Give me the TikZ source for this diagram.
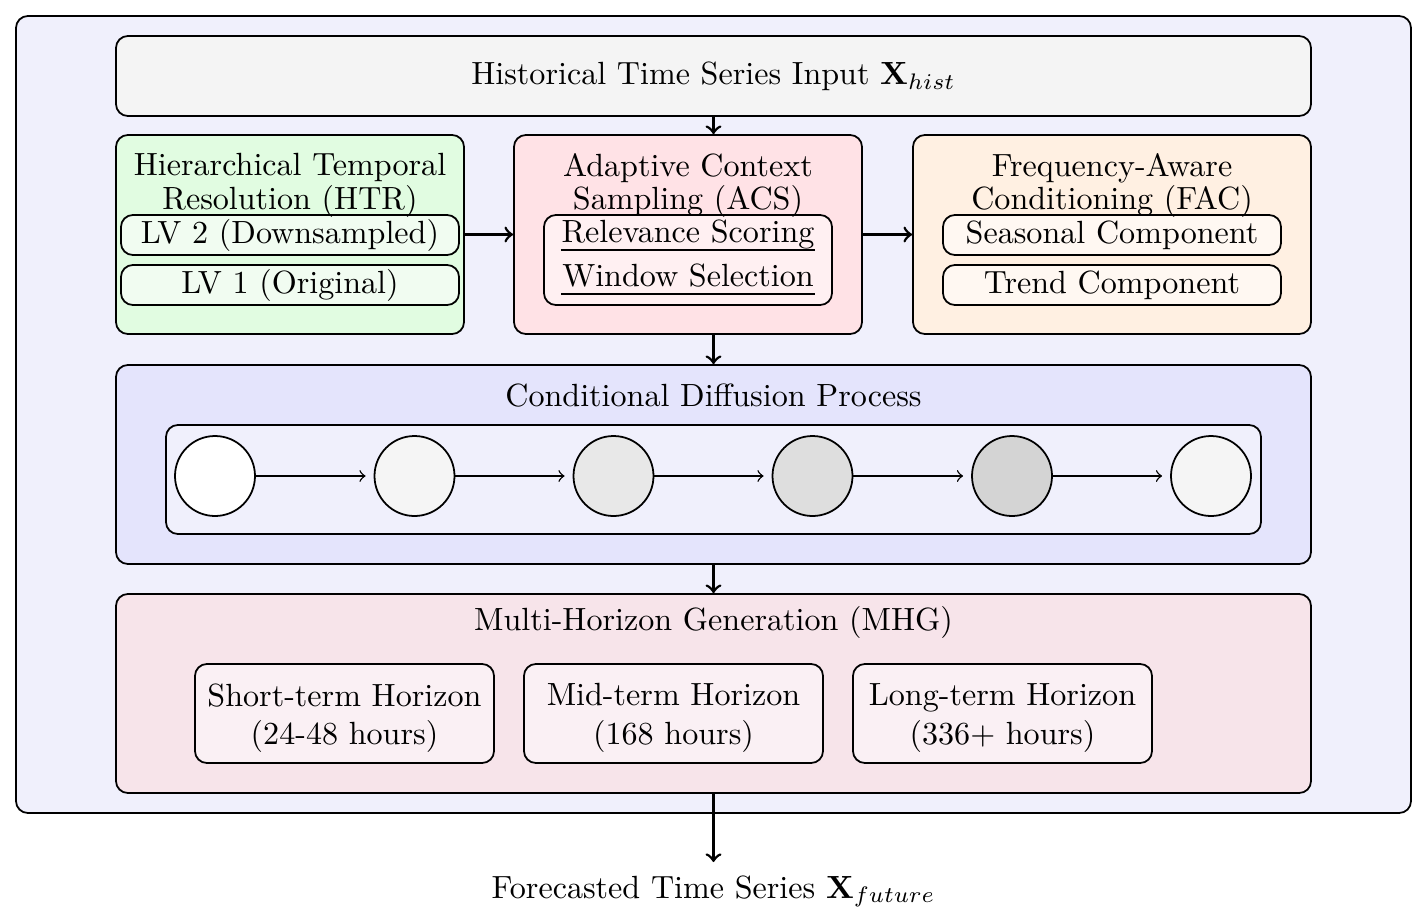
\documentclass[tikz,border=0pt]{standalone}
\usetikzlibrary{arrows}
\definecolor{cOuter}{RGB}{240,240,252}
\definecolor{cInput}{RGB}{244,244,244}
\definecolor{cHTR}{RGB}{225,252,225}
\definecolor{cHTRin}{RGB}{241,252,241}
\definecolor{cACS}{RGB}{255,226,230}
\definecolor{cACSin}{RGB}{255,240,242}
\definecolor{cFAC}{RGB}{255,240,226}
\definecolor{cFACin}{RGB}{255,248,242}
\definecolor{cDiff}{RGB}{228,228,252}
\definecolor{cDiffin}{RGB}{240,240,252}
\definecolor{cMHG}{RGB}{247,228,234}
\definecolor{cMHGin}{RGB}{250,240,244}
\tikzset{
  wh/.style 2 args={minimum width=#1*0.3115pt, minimum height=#2*0.3115pt},
  box/.style={draw, rounded corners=3.7pt, line width=0.55pt, inner sep=0pt},
  lbl/.style={inner sep=0pt, align=center},
  ttl/.style={inner sep=0pt, align=center, font=\fontsize{10}{10.5}\selectfont},
  mainarrow/.style={->, line width=0.85pt},
  dstep/.style={->, line width=0.45pt, shorten >=2.5pt},
  circ/.style={draw, circle, minimum size=80*0.3115pt, inner sep=0pt, line width=0.55pt},
}
\begin{document}
\begin{tikzpicture}[x=0.3115pt, y=-0.3115pt]
\useasboundingbox (0,0) rectangle (1428,909);
% outer frame
\node[box, fill=cOuter, wh={1395}{797}] (outer) at (713.5,414.5) {};
% input
\node[box, fill=cInput, wh={1195}{80}] (input) at (713.5,76) {Historical Time Series Input $\mathbf{X}_{hist}$};
% HTR
\node[box, fill=cHTR, wh={348}{199}] (htr) at (290,234.5) {};
\node[box, fill=cHTRin, wh={338}{40}] (lv2) at (290,235) {LV 2 (Downsampled)};
\node[box, fill=cHTRin, wh={338}{40}] (lv1) at (290,285) {LV 1 (Original)};
\node[ttl, anchor=north] (htrt) at (290,152.5) {Hierarchical Temporal\\Resolution (HTR)};
% ACS
\node[box, fill=cACS, wh={348}{199}] (acs) at (688,234.5) {};
\node[box, fill=cACSin, wh={288}{90}] (acsin) at (688,260) {};
\node[ttl, anchor=north] (acst) at (688,152.5) {Adaptive Context\\Sampling (ACS)};
\node[inner sep=0pt, anchor=base, minimum width=252*0.3115pt] (rs) at (688,242) {Relevance Scoring};
\node[inner sep=0pt, anchor=base, minimum width=252*0.3115pt] (ws) at (688,286) {Window Selection};
\draw[line width=0.55pt] ([yshift=-2.5pt]rs.base west) -- ([yshift=-2.5pt]rs.base east);
\draw[line width=0.55pt] ([yshift=-2.5pt]ws.base west) -- ([yshift=-2.5pt]ws.base east);
% FAC
\node[box, fill=cFAC, wh={398}{199}] (fac) at (1112,234.5) {};
\node[box, fill=cFACin, wh={338}{40}] (seas) at (1112,235) {Seasonal Component};
\node[box, fill=cFACin, wh={338}{40}] (trend) at (1112,285) {Trend Component};
\node[ttl, anchor=north] (fact) at (1112,152.5) {Frequency-Aware\\Conditioning (FAC)};
% Diffusion
\node[box, fill=cDiff, wh={1195}{199}] (diff) at (713.5,464.5) {};
\node[lbl] (difft) at (713.5,396) {Conditional Diffusion Process};
\node[box, fill=cDiffin, wh={1095}{109}] (diffin) at (713.5,479.5) {};
\node[circ, fill=white] (c1) at (215,476) {};
\node[circ, fill=black!4] (c2) at (414.5,476) {};
\node[circ, fill=black!9] (c3) at (613.5,476) {};
\node[circ, fill=black!13] (c4) at (812.5,476) {};
\node[circ, fill=black!17] (c5) at (1012,476) {};
\node[circ, fill=black!4] (c6) at (1211,476) {};
\draw[dstep] (c1) -- (c2);
\draw[dstep] (c2) -- (c3);
\draw[dstep] (c3) -- (c4);
\draw[dstep] (c4) -- (c5);
\draw[dstep] (c5) -- (c6);
% MHG
\node[box, fill=cMHG, wh={1195}{199}] (mhg) at (713.5,693.5) {};
\node[lbl] (mhgt) at (713.5,622) {Multi-Horizon Generation (MHG)};
\node[box, fill=cMHGin, wh={299}{99}] (sh) at (344.5,713.5) {};
\node[box, fill=cMHGin, wh={299}{99}] (mh) at (673.5,713.5) {};
\node[box, fill=cMHGin, wh={299}{99}] (lh) at (1002.5,713.5) {};
\node[lbl, anchor=north] (sht) at (344.5,683) {Short-term Horizon\\(24-48 hours)};
\node[lbl, anchor=north] (mht) at (673.5,683) {Mid-term Horizon\\(168 hours)};
\node[lbl, anchor=north] (lht) at (1002.5,683) {Long-term Horizon\\(336+ hours)};
% output
\node[inner xsep=0pt, inner ysep=4pt, anchor=north] (out) at (713.5,862) {Forecasted Time Series $\mathbf{X}_{future}$};
% arrows
\draw[mainarrow] (input.south) -- (input.south |- acs.north);
\draw[mainarrow] (htr.east) -- (acs.west);
\draw[mainarrow] (acs.east) -- (fac.west);
\draw[mainarrow] (input.south |- acs.south) -- (diff.north);
\draw[mainarrow] (diff.south) -- (mhg.north);
\draw[mainarrow] (mhg.south) -- (out.north);
\end{tikzpicture}
\end{document}
